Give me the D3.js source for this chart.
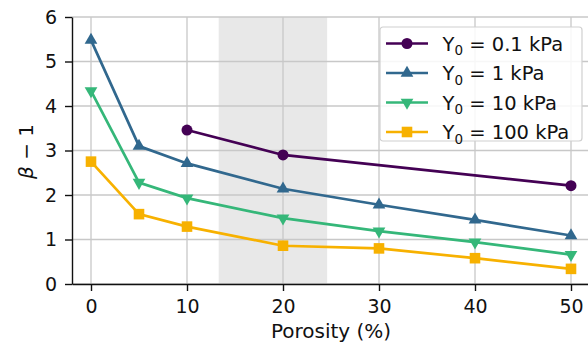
<!DOCTYPE html>
<html>
<head>
<meta charset="utf-8">
<script src="https://cdn.jsdelivr.net/npm/d3@7"></script>
<style>
  body { margin: 0; background: #fff; }
  svg { font-family: "DejaVu Sans", sans-serif; }
  .grid line { stroke: #c8c8c8; stroke-width: 1.3; }
  .axis text { font-size: 19px; fill: #111; font-family: "DejaVu Sans", sans-serif; }
  .axis path, .axis line { stroke: #111; stroke-width: 1.4; }
</style>
</head>
<body>
<svg id="chart" width="588" height="343"></svg>
<script>
// porosity values (%)
const xVals = [0, 5, 10, 20, 30, 40, 50];
const xTicks = [0, 10, 20, 30, 40, 50];
const yTicks = [0, 1, 2, 3, 4, 5, 6];

// beta - 1 for each Y0 (null = no point)
const y01 = [null, null, 3.46, 2.90, null, null, 2.21];
const y1 = [5.48, 3.10, 2.71, 2.14, 1.78, 1.44, 1.09];
const y10 = [4.34, 2.28, 1.93, 1.48, 1.19, 0.94, 0.66];
const y100 = [2.75, 1.57, 1.29, 0.86, 0.80, 0.58, 0.34];

const seriesNames = ["0.1", "1", "10", "100"];
const seriesColors = ["#440154", "#31688e", "#35b779", "#f7b100"];
const seriesSymbols = ["circle", "up", "down", "square"];
const seriesData = [y01, y1, y10, y100];

// shaded porosity band
const band = [13.3, 24.6];

const svg = d3.select("#chart");
const margin = { left: 72, top: 17, bottom: 284 };

const x = d3.scaleLinear().domain([0, 50]).range([91, 571]);
const y = d3.scaleLinear().domain([0, 6]).range([margin.bottom, margin.top]);
const xMin = x.invert(margin.left);

// band
svg.append("rect")
  .attr("x", x(band[0]))
  .attr("y", y(6))
  .attr("width", x(band[1]) - x(band[0]))
  .attr("height", y(0) - y(6))
  .attr("fill", "#e8e8e8");

// grid
const grid = svg.append("g").attr("class", "grid");
grid.selectAll(".gx").data(xTicks).enter().append("line")
  .attr("x1", d => x(d)).attr("x2", d => x(d))
  .attr("y1", y(0)).attr("y2", y(6));
grid.selectAll(".gy").data(yTicks).enter().append("line")
  .attr("x1", margin.left).attr("x2", 588)
  .attr("y1", d => y(d)).attr("y2", d => y(d));

// axes
const xAxisScale = d3.scaleLinear().domain([xMin, 60]).range([margin.left, x(60)]);
svg.append("g").attr("class", "axis")
  .attr("transform", `translate(0,${margin.bottom})`)
  .call(d3.axisBottom(xAxisScale).tickValues(xTicks).tickFormat(d3.format("d"))
    .tickSize(7).tickPadding(9).tickSizeOuter(0));
svg.append("g").attr("class", "axis")
  .attr("transform", `translate(${margin.left},0)`)
  .call(d3.axisLeft(y).tickValues(yTicks).tickFormat(d3.format("d"))
    .tickSize(7).tickPadding(8).tickSizeOuter(0));

// axis labels
svg.append("text")
  .attr("x", 331).attr("y", 338)
  .attr("text-anchor", "middle").attr("font-size", 20).attr("fill", "#111")
  .text("Porosity (%)");
const yl = svg.append("text")
  .attr("transform", `translate(33,${(margin.top + margin.bottom) / 2 + 1}) rotate(-90)`)
  .attr("text-anchor", "middle").attr("font-size", 20).attr("fill", "#111");
yl.append("tspan").attr("font-style", "italic").text("β");
yl.append("tspan").text(" − 1");

function symbolPath(kind) {
  if (kind === "circle") return d3.symbol(d3.symbolCircle, 95)();
  if (kind === "square") return d3.symbol(d3.symbolSquare, 112)();
  return d3.symbol(d3.symbolTriangle, 70)();
}

const line = d3.line()
  .x(d => x(d[0])).y(d => y(d[1]));

seriesData.forEach((vals, i) => {
  const pts = xVals.map((v, j) => [v, vals[j]]).filter(d => d[1] != null);
  const g = svg.append("g");
  g.append("path").datum(pts)
    .attr("fill", "none").attr("stroke", seriesColors[i]).attr("stroke-width", 2.7)
    .attr("d", line);
  g.selectAll("path.m").data(pts).enter().append("path")
    .attr("class", "m")
    .attr("d", symbolPath(seriesSymbols[i]))
    .attr("fill", seriesColors[i])
    .attr("transform", d => `translate(${x(d[0])},${y(d[1])})` + (seriesSymbols[i] === "down" ? " rotate(180)" : ""));
});

// legend
const lg = svg.append("g").attr("transform", "translate(380,27)");
lg.append("rect").attr("width", 202).attr("height", 114).attr("rx", 3)
  .attr("fill", "#fff").attr("fill-opacity", 0.85).attr("stroke", "#d0d0d0").attr("stroke-width", 1.2);
seriesNames.forEach((n, i) => {
  const cy = 16.5 + i * 29.5;
  const row = lg.append("g").attr("transform", `translate(0,${cy})`);
  row.append("line").attr("x1", 6).attr("x2", 48).attr("y1", 0).attr("y2", 0)
    .attr("stroke", seriesColors[i]).attr("stroke-width", 2.7);
  row.append("path").attr("d", symbolPath(seriesSymbols[i]))
    .attr("fill", seriesColors[i])
    .attr("transform", `translate(27,0)` + (seriesSymbols[i] === "down" ? " rotate(180)" : ""));
  const t = row.append("text").attr("x", 62.5).attr("y", 7).attr("font-size", 19.5).attr("fill", "#111");
  t.append("tspan").text("Y");
  t.append("tspan").attr("dy", 4.5).attr("font-size", 13.5).text("0");
  t.append("tspan").attr("dy", -4.5).text(` = ${n} kPa`);
});
</script>
</body>
</html>
